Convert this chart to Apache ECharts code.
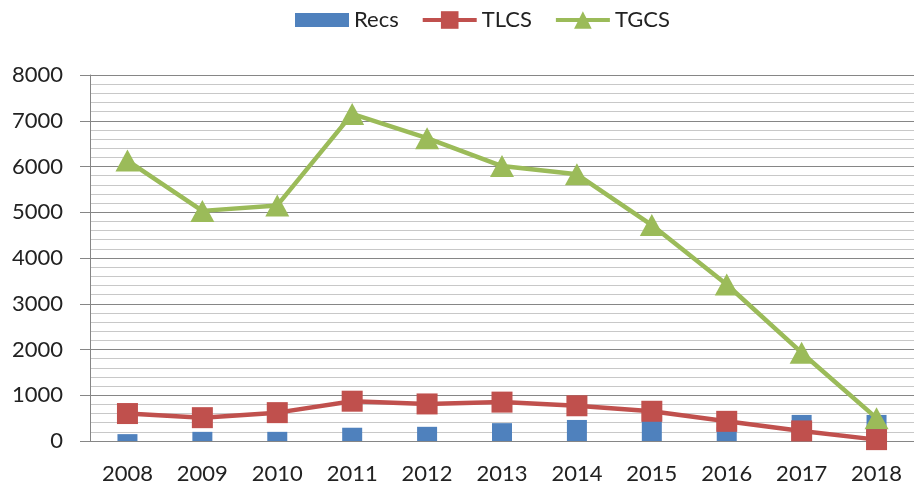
<!DOCTYPE html>
<html>
<head>
<meta charset="utf-8">
<script src="https://cdn.jsdelivr.net/npm/echarts@6/dist/echarts.min.js"></script>
<style>
  html, body { margin: 0; padding: 0; background: #fff; }
  #main { width: 914px; height: 486px; }
</style>
</head>
<body>
<div id="main"></div>
<script>
var years = ['2008', '2009', '2010', '2011', '2012', '2013', '2014', '2015', '2016', '2017', '2018'];
var recs = [150, 200, 200, 290, 310, 390, 460, 440, 300, 570, 570];
var tlcs = [600, 510, 620, 870, 810, 850, 770, 650, 430, 220, 30];
var tgcs = [6130, 5030, 5150, 7150, 6620, 6010, 5830, 4720, 3420, 1930, 500];

var myChart = echarts.init(document.getElementById('main'));
var font = 'Lato, "Open Sans", sans-serif';

var option = {
    animation: false,
    legend: {
        top: 4,
        left: 290,
        itemWidth: 54,
        itemHeight: 22,
        itemGap: 22,
        textStyle: { fontFamily: font, fontSize: 22, color: '#222' },
        lineStyle: { width: 4 },
        data: [
            { name: 'Recs', icon: 'path://M0,4 L54,4 L54,18 L0,18 Z' },
            { name: 'TLCS' },
            { name: 'TGCS' }
        ]
    },
    grid: { left: 90, top: 75, width: 834, bottom: 45 },
    xAxis: {
        type: 'category',
        data: years,
        axisLine: { lineStyle: { color: '#868686', width: 1 } },
        axisTick: { show: false },
        axisLabel: { fontFamily: font, fontSize: 22, color: '#222', margin: 22 }
    },
    yAxis: {
        type: 'value',
        min: 0,
        max: 8000,
        interval: 1000,
        axisLine: { show: true, lineStyle: { color: '#868686' } },
        axisTick: { show: true, inside: false, length: 10, lineStyle: { color: '#868686' } },
        axisLabel: {
            fontFamily: font, fontSize: 22, color: '#222', margin: 27,
            formatter: function (v) { return String(v); }
        },
        splitLine: { lineStyle: { color: '#868686', width: 1 } },
        minorTick: { show: false, splitNumber: 5 },
        minorSplitLine: { show: true, lineStyle: { color: '#c8c8c8', width: 1 } }
    },
    series: [
        {
            name: 'Recs',
            type: 'bar',
            data: recs,
            barWidth: 20,
            itemStyle: { color: '#4F81BD' },
            z: 1
        },
        {
            name: 'TLCS',
            type: 'line',
            data: tlcs,
            symbol: 'rect',
            symbolSize: 21,
            lineStyle: { color: '#C0504D', width: 4.5 },
            itemStyle: { color: '#C0504D' },
            z: 3
        },
        {
            name: 'TGCS',
            type: 'line',
            data: tgcs,
            symbol: 'triangle',
            symbolSize: [24, 22],
            lineStyle: { color: '#9BBB59', width: 4.5 },
            itemStyle: { color: '#9BBB59' },
            z: 2
        }
    ]
};
myChart.setOption(option);
</script>
</body>
</html>
